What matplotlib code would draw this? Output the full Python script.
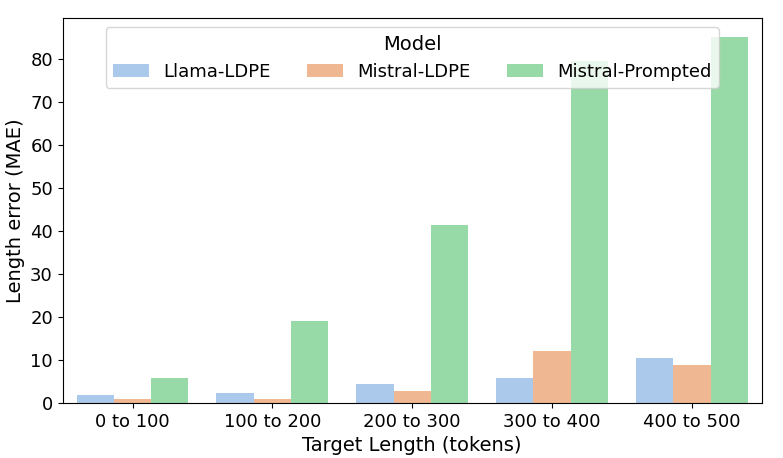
import pandas as pd
import seaborn as sns
from matplotlib import pyplot as plt

bins = ['0 to 100', '100 to 200', '200 to 300', '300 to 400', '400 to 500']
models = ['Llama-LDPE', 'Mistral-LDPE', 'Mistral-Prompted']
llama_ldpe = [1.9, 2.3, 4.4, 5.8, 10.4]
mistral_ldpe = [0.9, 0.9, 2.8, 12.1, 8.8]
mistral_prompted = [5.8, 19.0, 41.3, 79.4, 85.1]

rows = []
for model, vals in zip(models, [llama_ldpe, mistral_ldpe, mistral_prompted]):
    for b, v in zip(bins, vals):
        rows.append({'Target Length (tokens)': b, 'Length error (MAE)': v, 'Model': model})
df = pd.DataFrame(rows)

fig, ax = plt.subplots(figsize=(7.83, 4.58), dpi=100)
sns.barplot(data=df, x='Target Length (tokens)', y='Length error (MAE)',
            hue='Model', palette='pastel', ax=ax)

ax.set_xlabel('Target Length (tokens)', fontsize=14)
ax.set_ylabel('Length error (MAE)', fontsize=14)
ax.tick_params(axis='both', labelsize=13)
leg = ax.legend(title='Model', ncol=3, loc='upper center', fontsize=13,
                title_fontsize=14)

plt.subplots_adjust(left=0.08, right=0.973, top=0.96, bottom=0.12)
plt.savefig('out.png')
